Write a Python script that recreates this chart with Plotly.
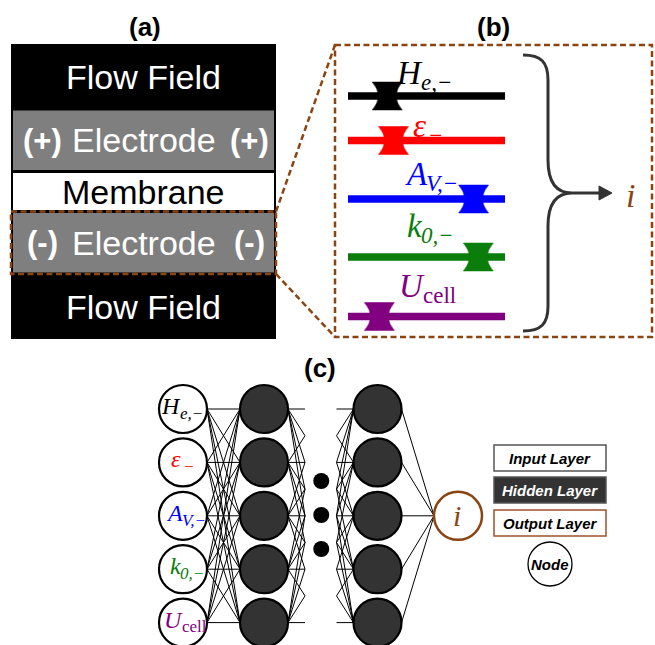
import plotly.graph_objects as go

# ---------------- data ----------------
# panel (a): flow-battery cell stack, top to bottom
stack_layers = ["Flow Field", "(+) Electrode (+)", "Membrane", "(-) Electrode (-)", "Flow Field"]
stack_kinds = ["flow", "electrode", "membrane", "electrode", "flow"]

# panel (b): negative-electrode parameters (symbol + subscript) and slider settings
param_symbols = ["H", "ε", "A", "k", "U"]
param_subscripts = ["e,−", "−", "V,−", "0,−", "cell"]
subscript_italic = [True, True, True, True, False]
slider_values = [0.25, 0.29, 0.80, 0.83, 0.20]
output_label = "i"

# panel (c): network structure
n_inputs = 5
hidden_sizes = [5, 5]
n_dots = 3
legend_items = ["Input Layer", "Hidden Layer", "Output Layer", "Node"]
panel_titles = ["(a)", "(b)", "(c)"]

# ---------------- styling ----------------
W, H = 655, 645
SANS = "Liberation Sans, Arial, sans-serif"
SERIF = "Liberation Serif, Times New Roman, serif"
BROWN = "#8b4513"
DASH = "6px,3.5px"
param_colors = ["#000000", "#ff0000", "#0000ff", "#0a7d0a", "#800080"]
kind_height = {"flow": 65, "electrode": 62.5, "membrane": 40}
kind_fill = {"flow": "#000000", "electrode": "#7f7f7f", "membrane": "#ffffff"}
kind_text = {"flow": "#ffffff", "electrode": "#ffffff", "membrane": "#000000"}
# horizontal shift of the symbol/subscript junction from the label centre (em of symbol size)
junction_shift = [-0.18, -0.04, -0.10, -0.18, -0.10]
# how far the subscript tucks under the italic symbol (em of symbol size)
sub_kern = [0.13, 0.0, 0.13, 0.13, 0.13]

shapes = []
ann = []


def text(x, y, s, size, color="#000", family=SANS, weight="normal", style="normal",
         xanchor="center"):
    ann.append(dict(x=x, y=y, text=s, showarrow=False, xref="x", yref="y",
                    xanchor=xanchor, yanchor="middle", borderpad=0,
                    font=dict(size=size, color=color, family=family,
                              weight=weight, style=style)))


def symbol(cx, cy, k, size):
    """Italic symbol with its subscript, centred near (cx, cy)."""
    sub_size = round(size * 0.7)
    xj = cx + junction_shift[k] * size
    c = param_colors[k]
    text(xj + sub_kern[k] * size, cy, param_symbols[k], size, c, SERIF, style="italic",
         xanchor="right")
    text(xj, cy + 0.3 * size, param_subscripts[k], sub_size, c, SERIF,
         style="italic" if subscript_italic[k] else "normal", xanchor="left")


def rect(x0, y0, x1, y1, fill=None, color=None, width=0, dash=None):
    line = dict(width=width)
    if color:
        line["color"] = color
    if dash:
        line["dash"] = dash
    shapes.append(dict(type="rect", xref="x", yref="y", x0=x0, y0=y0, x1=x1, y1=y1,
                       fillcolor=fill or "rgba(0,0,0,0)", line=line))


def seg(x0, y0, x1, y1, color="#000", width=1, dash=None):
    line = dict(color=color, width=width)
    if dash:
        line["dash"] = dash
    shapes.append(dict(type="line", xref="x", yref="y", x0=x0, y0=y0, x1=x1, y1=y1, line=line))


def circle(cx, cy, r, fill="#fff", color="#000", width=2):
    shapes.append(dict(type="circle", xref="x", yref="y", x0=cx - r, y0=cy - r, x1=cx + r, y1=cy + r,
                       fillcolor=fill, line=dict(color=color, width=width)))


def path(d, fill=None, color="#000", width=0):
    shapes.append(dict(type="path", xref="x", yref="y", path=d,
                       fillcolor=fill or "rgba(0,0,0,0)", line=dict(color=color, width=width)))


# ---------------- panel (a) ----------------
ax0, ax1, atop = 11, 276, 44
text(145, 27, panel_titles[0], 26, weight="bold")
bounds = [atop]
for k in stack_kinds:
    bounds.append(bounds[-1] + kind_height[k])
rect(ax0, atop, ax1, bounds[-1], fill="#000000")
cx_a = (ax0 + ax1) / 2
for i, (label, kind) in enumerate(zip(stack_layers, stack_kinds)):
    y0, y1 = bounds[i], bounds[i + 1]
    if kind != "flow":
        rect(ax0 + 2, y0 + 1.5, ax1 - 2, y1 - 1.5, fill=kind_fill[kind])
    ym = (y0 + y1) / 2
    if kind == "electrode":
        left, mid, right = label.split(" ")
        text(42, ym, left, 31, kind_text[kind], weight="bold")
        text(cx_a, ym, mid, 34, kind_text[kind])
        text(249, ym, right, 31, kind_text[kind], weight="bold")
    else:
        text(cx_a, ym, label, 34, kind_text[kind])
# highlight the negative electrode
neg = len(stack_kinds) - 2
ny0, ny1 = bounds[neg], bounds[neg + 1]
rect(ax0, ny0, ax1, ny1, color=BROWN, width=2.5, dash=DASH)

# ---------------- panel (b) ----------------
bx0, by0, bx1, by1 = 335, 45, 652, 337
text(493, 27, panel_titles[1], 26, weight="bold")
rect(bx0, by0, bx1, by1, color=BROWN, width=2.5, dash=DASH)
seg(ax1, ny0, bx0, by0, BROWN, 2.5, DASH)
seg(ax1, ny1, bx0, by1, BROWN, 2.5, DASH)

track_x0, track_x1 = 348, 505
row_y = [96, 140.5, 199, 257, 316.5]
label_y = [73, 126, 174, 226, 286]
label_x = [426, 428, 428, 426, 425]
mw, mh, waist = 15, 14, 3
for j, v in enumerate(slider_values):
    y = row_y[j]
    c = param_colors[j]
    seg(track_x0, y, track_x1, y, c, 7.5)
    mx = track_x0 + v * (track_x1 - track_x0)
    d = (f"M {mx - mw},{y - mh} L {mx + mw},{y - mh} "
         f"Q {mx + waist},{y} {mx + mw},{y + mh} L {mx - mw},{y + mh} "
         f"Q {mx - waist},{y} {mx - mw},{y - mh} Z")
    path(d, fill=c, color=c, width=0.5)
    symbol(label_x[j], label_y[j], j, 33)

# brace collecting the parameters into the output
BR = "#333333"
path("M 523,55 C 541,55 548,62 548,80 L 548,160 C 548,180 555,193 572,193 "
     "C 555,193 548,206 548,226 L 548,306 C 548,324 541,331 523,331",
     color=BR, width=3)
seg(572, 193, 600, 193, BR, 3)
path("M 599,186 L 612,193 L 599,200 Z", fill=BR, color=BR, width=1)
text(630, 195, output_label, 34, BROWN, SERIF, style="italic")

# ---------------- panel (c) ----------------
text(320, 368, panel_titles[2], 26, weight="bold")
R = 24
x_in, x_h1, x_h2, x_out = 183, 264, 377.5, 458
row0, dy = 409, 53.4
ys_in = [row0 + k * dy for k in range(n_inputs)]
ys_h1 = [row0 + k * dy for k in range(hidden_sizes[0])]
ys_h2 = [row0 + k * dy for k in range(hidden_sizes[1])]
y_out = ys_in[len(ys_in) // 2]

# input -> hidden 1 (fully connected)
for ya in ys_in:
    for yb in ys_h1:
        seg(x_in + R, ya, x_h1 - R, yb, "#000", 1)
# hidden 1 -> ... -> hidden 2 (connections fade into the gap)
span = 34
cut = span / 2
t = cut / span
for ya in ys_h1:
    for yb in ys_h1:
        seg(x_h1 + R, ya, x_h1 + R + cut, ya + t * (yb - ya), "#000", 1)
for ya in ys_h2:
    for yb in ys_h2:
        seg(x_h2 - R - cut, yb + t * (ya - yb), x_h2 - R, yb, "#000", 1)
# hidden 2 -> output
for ya in ys_h2:
    seg(x_h2 + R, ya, x_out - R, y_out, "#000", 1)

dot_x = (x_h1 + x_h2) / 2 + 0.5
for k in range(n_dots):
    circle(dot_x, 481 + k * 34, 8, fill="#000", color="#000", width=0)

for k, y in enumerate(ys_in):
    circle(x_in, y, R, fill="#fff", color="#000", width=2.2)
    symbol(x_in, y - 3, k, 24)
for y in ys_h1:
    circle(x_h1, y, R, fill="#333333", color="#000", width=2.2)
for y in ys_h2:
    circle(x_h2, y, R, fill="#333333", color="#000", width=2.2)
circle(x_out, y_out, R, fill="#fff", color=BROWN, width=2.5)
text(x_out - 1, y_out, output_label, 30, BROWN, SERIF, style="italic")

# legend
lx0, lx1 = 494, 606
box_y = [445, 477, 510]
box_fill = ["#ffffff", "#333333", "#ffffff"]
box_edge = ["#555555", "#555555", "#a0522d"]
box_text = ["#000000", "#ffffff", "#000000"]
for k in range(3):
    rect(lx0, box_y[k], lx1, box_y[k] + 26, fill=box_fill[k], color=box_edge[k], width=1.5)
    text((lx0 + lx1) / 2, box_y[k] + 13, legend_items[k], 15, box_text[k],
         weight="bold", style="italic")
circle(550, 564, 22, fill="#fff", color="#000", width=1.3)
text(550, 564, legend_items[3], 15, "#000", weight="bold", style="italic")

fig = go.Figure()
fig.update_layout(
    width=W, height=H,
    margin=dict(l=0, r=0, t=0, b=0),
    paper_bgcolor="#ffffff", plot_bgcolor="#ffffff",
    xaxis=dict(range=[0, W], visible=False, fixedrange=True),
    yaxis=dict(range=[H, 0], visible=False, fixedrange=True),
    shapes=shapes, annotations=ann, showlegend=False,
)
fig.write_html("out.html")
